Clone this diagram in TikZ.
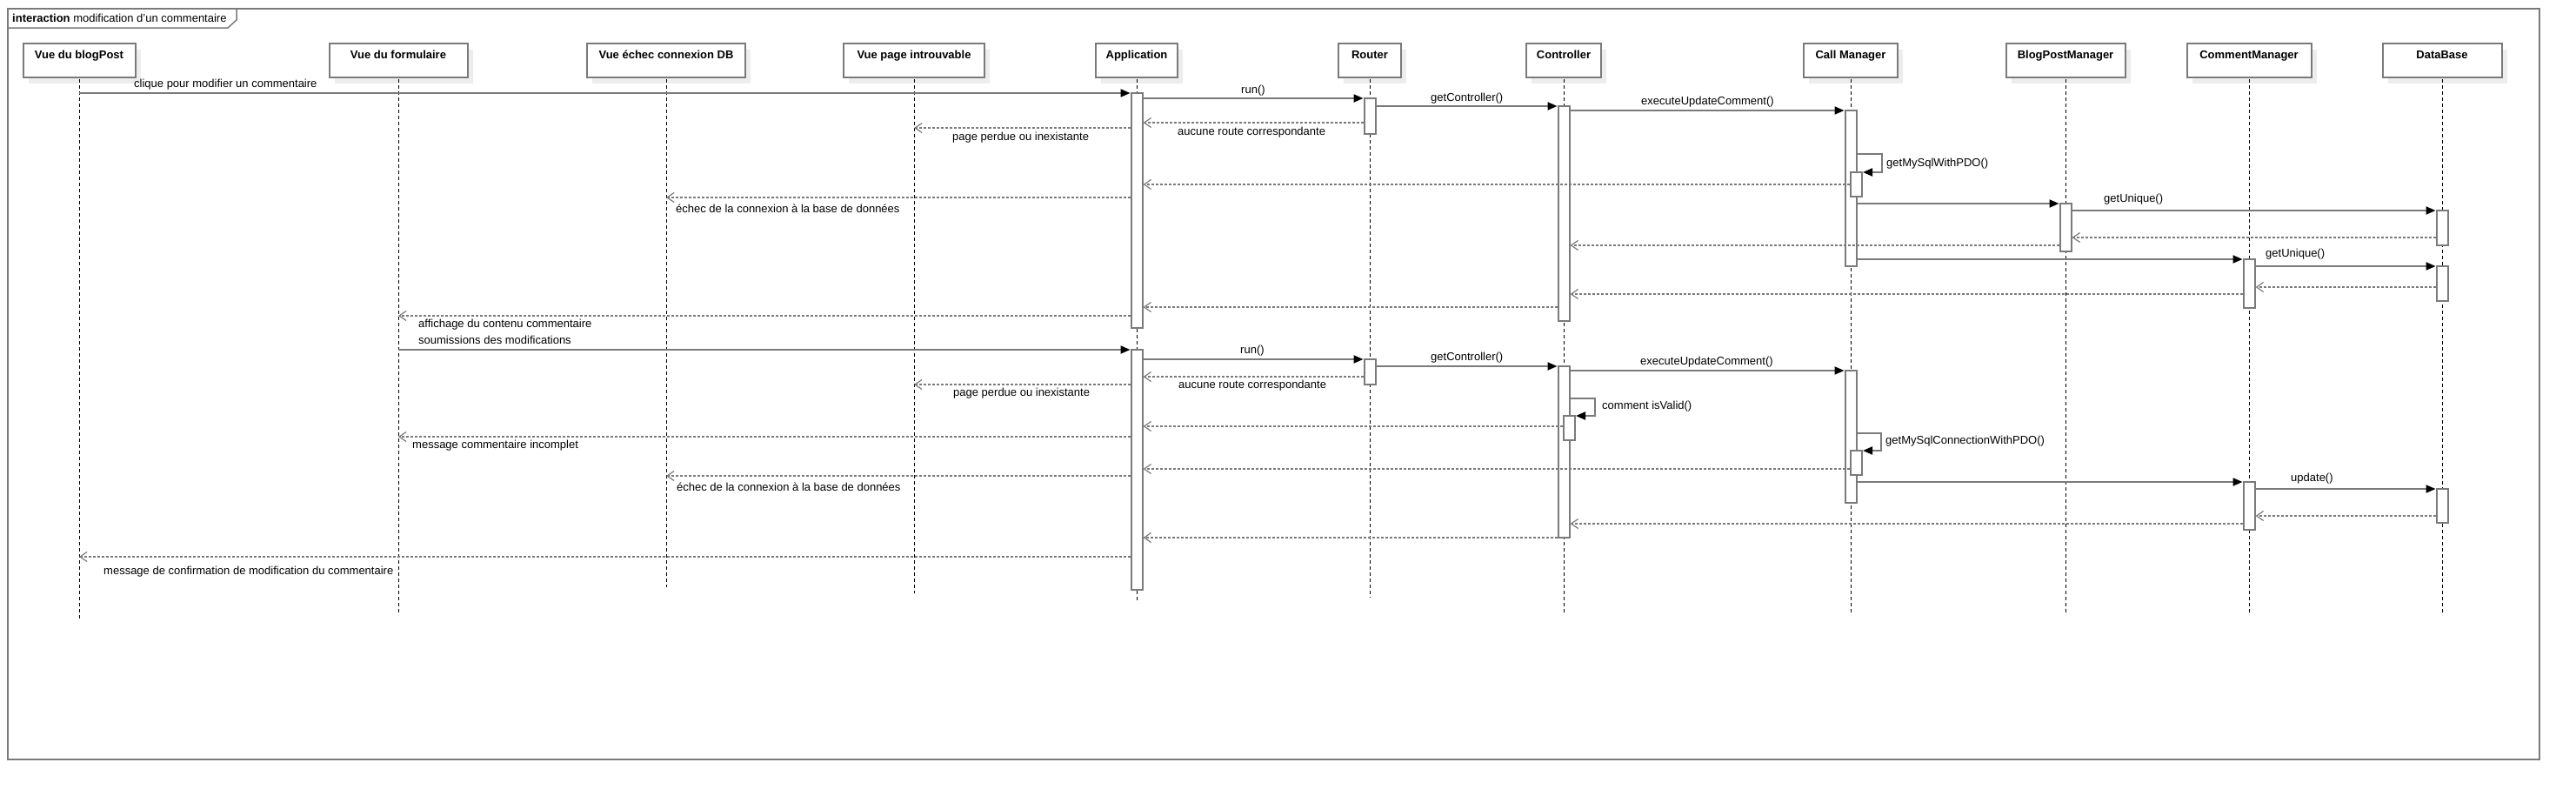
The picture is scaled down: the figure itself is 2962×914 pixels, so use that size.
\documentclass[tikz,border=0pt]{standalone}
\usepackage{fontspec}
\setmainfont{Liberation Sans}
\usetikzlibrary{arrows.meta,shadows}
\definecolor{ln}{HTML}{7A7A7A}
\newcommand\actbox[4]{\node[act, minimum height={(#4-#3)*1pt}] (#1) at (#2,{(#3+#4)/2}) {};}
\begin{document}
\begin{tikzpicture}[x=1pt,y=-1pt,
 font=\fontsize{13}{15}\selectfont,
 head/.style={draw=ln, line width=2pt, fill=white, minimum width=#1, minimum height=39pt,
   inner sep=4pt, text height=13.5pt, text depth=17.5pt,
   font=\fontsize{13}{15}\selectfont\bfseries,
   drop shadow={shadow xshift=6pt, shadow yshift=-7pt, fill=black!7, opacity=1}},
 act/.style={draw=ln, line width=2pt, fill=white, minimum width=13pt, inner sep=0pt},
 life/.style={dash pattern=on 4pt off 3pt, line width=1pt, black},
 msg/.style={draw=ln, line width=2pt, -{Triangle[length=11pt,width=9pt,color=black]}},
 ret/.style={draw=ln, line width=2pt, dash pattern=on 3pt off 2pt,
   -{Straight Barb[length=8pt,width=11pt,line width=1.2pt]}},
 lbl/.style={inner sep=0pt, anchor=west}]
\useasboundingbox (0,0) rectangle (2962,914);
% frame
\draw[draw=ln, line width=2.5pt] (9,10) rectangle (2920,873);
\draw[draw=ln, line width=1.5pt] (9,32) -- (262,32) -- (272,23) -- (272,10);
\node[lbl] (title) at (14,21) {\textbf{interaction} modification d'un commentaire};
% lifeline ends
\coordinate (bpE) at (91,711);
\coordinate (foE) at (458,707);
\coordinate (ecE) at (766,675);
\coordinate (pgE) at (1051,682);
\coordinate (apE) at (1307,692);
\coordinate (rtE) at (1575,687);
\coordinate (ctE) at (1798,705);
\coordinate (cmE) at (2128,707);
\coordinate (bpmE) at (2375,707);
\coordinate (coE) at (2586,707);
\coordinate (dbE) at (2808,707);
% heads
\node[head=129pt] (bp) at (91,69.5) {Vue du blogPost};
\node[head=159pt] (fo) at (458,69.5) {Vue du formulaire};
\node[head=182pt] (ec) at (766,69.5) {Vue échec connexion DB};
\node[head=162pt] (pg) at (1051,69.5) {Vue page introuvable};
\node[head=94pt] (ap) at (1307,69.5) {Application};
\node[head=72pt] (rt) at (1575,69.5) {Router};
\node[head=86pt] (ct) at (1798,69.5) {Controller};
\node[head=108pt] (cm) at (2128,69.5) {Call Manager};
\node[head=137pt] (bpm) at (2375,69.5) {BlogPostManager};
\node[head=143pt] (co) at (2586,69.5) {CommentManager};
\node[head=137pt] (db) at (2808,69.5) {DataBase};
% lifelines
\foreach \n in {bp,fo,ec,pg,ap,rt,ct,cm,bpm,co,db}
  \draw[life] ([yshift=-1pt]\n.south) -- (\n E);
% activations
\actbox{aAp1}{1307}{107}{377}
\actbox{aAp2}{1307}{402}{678}
\actbox{aRt1}{1575}{113}{154}
\actbox{aRt2}{1575}{413}{442}
\actbox{aCt1}{1798}{122}{369}
\actbox{aCt2}{1798}{421}{618}
\actbox{aCtN}{1804.5}{478}{506}
\actbox{aCm1}{2128}{127}{306}
\actbox{aCmN1}{2134.5}{198}{226}
\actbox{aCm2}{2128}{426}{578}
\actbox{aCmN2}{2134.5}{518}{546}
\actbox{aBpm}{2375}{234}{289}
\actbox{aCo1}{2586}{298}{354}
\actbox{aCo2}{2586}{554}{609}
\actbox{aDb1}{2808}{242}{282}
\actbox{aDb2}{2808}{306}{346}
\actbox{aDb3}{2808}{562}{601}
% messages - first part
\draw[msg] (bp |- 0,107) -- (aAp1.west |- 0,107);
\draw[msg] (aAp1.east |- 0,113) -- (aRt1.west |- 0,113);
\draw[ret] (aRt1.west |- 0,141) -- (aAp1.east |- 0,141);
\draw[ret] (aAp1.west |- 0,147) -- (pg |- 0,147);
\draw[msg] (aRt1.east |- 0,122) -- (aCt1.west |- 0,122);
\draw[msg] (aCt1.east |- 0,127) -- (aCm1.west |- 0,127);
\coordinate (s1a) at (2164,177);
\coordinate (s1b) at (2164,198);
\draw[msg] (aCm1.east |- s1a) -- (s1a) -- (s1b) -- (aCmN1.east |- s1b);
\draw[ret] (aCmN1.west |- 0,212) -- (aAp1.east |- 0,212);
\draw[ret] (aAp1.west |- 0,227) -- (ec |- 0,227);
\draw[msg] (aCm1.east |- 0,234) -- (aBpm.west |- 0,234);
\draw[msg] (aBpm.east |- 0,242) -- (aDb1.west |- 0,242);
\draw[ret] (aDb1.west |- 0,273) -- (aBpm.east |- 0,273);
\draw[ret] (aBpm.west |- 0,282) -- (aCt1.east |- 0,282);
\draw[msg] (aCm1.east |- 0,298) -- (aCo1.west |- 0,298);
\draw[msg] (aCo1.east |- 0,306) -- (aDb2.west |- 0,306);
\draw[ret] (aDb2.west |- 0,330) -- (aCo1.east |- 0,330);
\draw[ret] (aCo1.west |- 0,338) -- (aCt1.east |- 0,338);
\draw[ret] (aCt1.west |- 0,353) -- (aAp1.east |- 0,353);
\draw[ret] (aAp1.west |- 0,363) -- (fo |- 0,363);
% second part
\draw[msg] (fo |- 0,402) -- (aAp2.west |- 0,402);
\draw[msg] (aAp2.east |- 0,413) -- (aRt2.west |- 0,413);
\draw[ret] (aRt2.west |- 0,433) -- (aAp2.east |- 0,433);
\draw[ret] (aAp2.west |- 0,442) -- (pg |- 0,442);
\draw[msg] (aRt2.east |- 0,421) -- (aCt2.west |- 0,421);
\draw[msg] (aCt2.east |- 0,426) -- (aCm2.west |- 0,426);
\coordinate (s2a) at (1834,458);
\coordinate (s2b) at (1834,478);
\draw[msg] (aCt2.east |- s2a) -- (s2a) -- (s2b) -- (aCtN.east |- s2b);
\draw[ret] (aCtN.west |- 0,490) -- (aAp2.east |- 0,490);
\draw[ret] (aAp2.west |- 0,502) -- (fo |- 0,502);
\coordinate (s3a) at (2163,498);
\coordinate (s3b) at (2163,518);
\draw[msg] (aCm2.east |- s3a) -- (s3a) -- (s3b) -- (aCmN2.east |- s3b);
\draw[ret] (aCmN2.west |- 0,539) -- (aAp2.east |- 0,539);
\draw[ret] (aAp2.west |- 0,547) -- (ec |- 0,547);
\draw[msg] (aCm2.east |- 0,554) -- (aCo2.west |- 0,554);
\draw[msg] (aCo2.east |- 0,562) -- (aDb3.west |- 0,562);
\draw[ret] (aDb3.west |- 0,593) -- (aCo2.east |- 0,593);
\draw[ret] (aCo2.west |- 0,602) -- (aCt2.east |- 0,602);
\draw[ret] (aCt2.west |- 0,618) -- (aAp2.east |- 0,618);
\draw[ret] (aAp2.west |- 0,640) -- (bp |- 0,640);
% labels
\node[lbl] (l1) at (154,97) {clique pour modifier un commentaire};
\node[lbl] (l2) at (1427,104) {run()};
\node[lbl] (l3) at (1354,152) {aucune route correspondante};
\node[lbl] (l4) at (1095,158) {page perdue ou inexistante};
\node[lbl] (l5) at (1645,113) {getController()};
\node[lbl] (l6) at (1887,117) {executeUpdateComment()};
\node[lbl] (l7) at (2169,188) {getMySqlWithPDO()};
\node[lbl] (l8) at (777,240) {échec de la connexion à la base de données};
\node[lbl] (l9) at (2419,229) {getUnique()};
\node[lbl] (l10) at (2605,292) {getUnique()};
\node[lbl] (l11) at (481,373) {affichage du contenu commentaire};
\node[lbl] (l12) at (481,391) {soumissions des modifications};
\node[lbl] (l13) at (1426,403) {run()};
\node[lbl] (l14) at (1355,443) {aucune route correspondante};
\node[lbl] (l15) at (1096,452) {page perdue ou inexistante};
\node[lbl] (l16) at (1645,411) {getController()};
\node[lbl] (l17) at (1886,416) {executeUpdateComment()};
\node[lbl] (l18) at (1842,467) {comment isValid()};
\node[lbl] (l19) at (474,512) {message commentaire incomplet};
\node[lbl] (l20) at (2168,507) {getMySqlConnectionWithPDO()};
\node[lbl] (l21) at (778,560) {échec de la connexion à la base de données};
\node[lbl] (l22) at (2634,550) {update()};
\node[lbl] (l23) at (119,657) {message de confirmation de modification du commentaire};
\end{tikzpicture}
\end{document}
